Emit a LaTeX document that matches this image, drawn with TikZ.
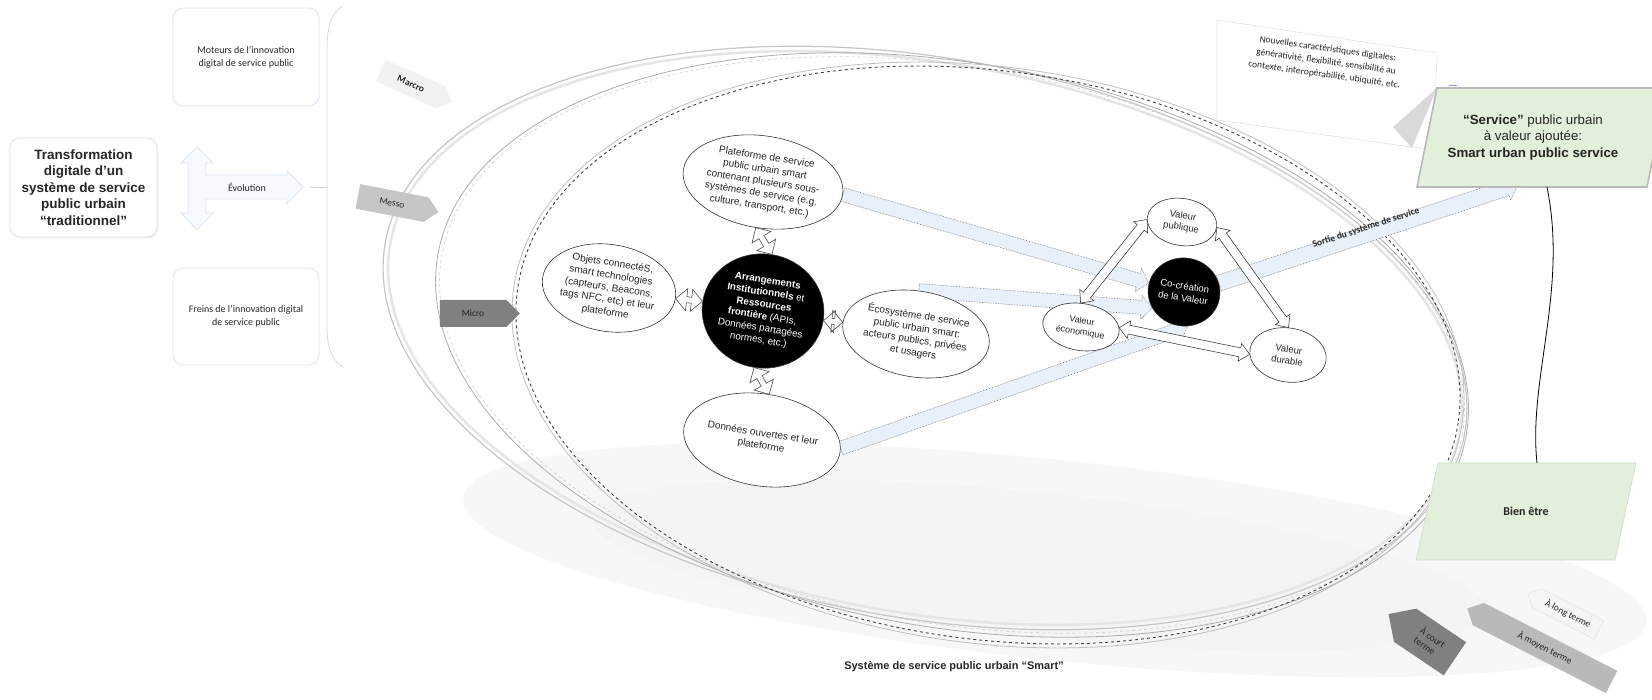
\documentclass[tikz,border=0pt]{standalone}
\usepackage{fontspec}
\setmainfont{Liberation Sans}
\newfontfamily\calib{Carlito}
\usetikzlibrary{shapes.geometric,shapes.symbols,calc,shadows}
\definecolor{lgreen}{HTML}{E2EFDA}
\definecolor{flowblue}{HTML}{E8F0FA}
\definecolor{boxline}{HTML}{DAE5F0}
\definecolor{evofill}{HTML}{F7FAFD}
\pgfdeclarelayer{bg}
\pgfsetlayers{bg,main}
\newcommand{\blockarr}[6]{%
  \coordinate (ba-c) at ($(#3)!#6!(#2)$);
  \path[#1] ($(#2)!#4!90:(#3)$) -- ($(ba-c)!#4!90:(#3)$) -- ($(ba-c)!#5!90:(#3)$) -- (#3)
    -- ($(ba-c)!#5!-90:(#3)$) -- ($(ba-c)!#4!-90:(#3)$) -- ($(#2)!#4!-90:(#3)$) -- cycle;}
\newcommand{\dblarr}[6]{%
  \coordinate (da-a) at ($(#2)!#6!(#3)$);
  \coordinate (da-b) at ($(#3)!#6!(#2)$);
  \path[#1] (#2) -- ($(da-a)!#5!90:(#3)$) -- ($(da-a)!#4!90:(#3)$) -- ($(da-b)!#4!90:(#3)$)
    -- ($(da-b)!#5!90:(#3)$) -- (#3) -- ($(da-b)!#5!-90:(#3)$) -- ($(da-b)!#4!-90:(#3)$)
    -- ($(da-a)!#4!-90:(#3)$) -- ($(da-a)!#5!-90:(#3)$) -- cycle;}
\begin{document}
\begin{tikzpicture}[x=1pt,y=-1pt,
  every node/.style={text=black!85},
  lbox/.style={rectangle, rounded corners=10pt, draw=boxline, fill=white, line width=0.8pt, align=center, inner sep=2pt},
  inode/.style={ellipse, draw=black!80, line width=0.6pt, fill=white, inner sep=0pt, align=center, rotate=-9, font=\fontsize{10}{12.3}\selectfont},
  cnode/.style={inode, fill=black, text=white},
  vnode/.style={inode, font=\fontsize{9.5}{11.5}\selectfont},
  flow/.style={fill=flowblue, draw=black!55, densely dotted, line width=0.6pt},
  varr/.style={fill=white, draw=black!80, line width=0.55pt},
  dconn/.style={fill=white, draw=black!70, line width=0.6pt},
  lvl/.style={signal, signal to=east, inner sep=0pt, font=\calib\fontsize{9.5}{11}\selectfont},
  term/.style={signal, signal to=west, inner sep=0pt, font=\calib\fontsize{9.5}{11}\selectfont}]
\useasboundingbox (0,0) rectangle (1652,700);

% ---------- background: shadow and big ellipses ----------
\begin{pgfonlayer}{bg}
\fill[gray!6, rotate around={-6:(1055,560)}] (1055,560) ellipse [x radius=595pt, y radius=100pt];
\fill[gray!9, rotate around={-6:(1040,565)}] (1040,565) ellipse [x radius=450pt, y radius=72pt];
\draw[gray!20, line width=2.5pt, rotate around={-10:(925,338)}] (925,338) ellipse [x radius=543pt, y radius=275pt];
\draw[gray!45, line width=1.2pt, rotate around={-10:(925,338)}] (925,338) ellipse [x radius=548pt, y radius=280pt];
\draw[gray!35, dashed, line width=0.7pt, rotate around={-10:(952,345)}] (952,345) ellipse [x radius=518pt, y radius=278pt];
\draw[gray!65, line width=0.8pt, rotate around={-10:(952,345)}] (952,345) ellipse [x radius=522pt, y radius=282pt];
\draw[gray!50, line width=0.8pt, rotate around={-8:(988,355)}] (988,355) ellipse [x radius=479pt, y radius=288pt];
\draw[black!75, dashed, line width=0.9pt, rotate around={-8:(988,355)}] (988,355) ellipse [x radius=475pt, y radius=284pt];
\end{pgfonlayer}

% ---------- left part ----------
\node[lbox, minimum width=147, minimum height=99, drop shadow={opacity=0.12, shadow xshift=1.5pt, shadow yshift=-1.5pt},
      font=\fontsize{13.5}{16.5}\selectfont\bfseries] (trans) at (83.5,187.5)
  {Transformation\\digitale d’un\\système de service\\public urbain\\“traditionnel”};
\node[lbox, minimum width=146, minimum height=98, font=\calib\fontsize{10}{13.3}\selectfont] (mot) at (246,57)
  {Moteurs de l’innovation\\digital de service public};
\node[lbox, minimum width=146, minimum height=97, font=\calib\fontsize{10}{13.3}\selectfont] (frein) at (246,316.5)
  {Freins de l’innovation digital\\de service public};
\path[fill=evofill, draw=boxline, line width=0.8pt] (197,147) -- (213,163) -- (206,163) -- (206,175) -- (287,175)
  -- (287,171) -- (303,187) -- (287,204) -- (287,199) -- (206,199) -- (206,213) -- (213,213) -- (197,230)
  -- (181,213) -- (188,213) -- (188,163) -- (181,163) -- cycle;
\node[font=\calib\fontsize{10}{12}\selectfont] (evo) at (247,187) {Évolution};
\coordinate (evotip) at (310,187);
\coordinate (brk) at (327,187);
\draw[gray!35, line width=0.8pt] (evotip) -- (brk);
\draw[gray!30, line width=0.8pt] (343,6) .. controls (331,12) and (327,28) .. (327,50) -- (327,325)
  .. controls (327,348) and (331,360) .. (343,367);

% ---------- level arrows ----------
\node[lvl, fill=gray!10, minimum width=78, minimum height=24, rotate=-24, font=\calib\bfseries\fontsize{9.5}{11}\selectfont] (marcro) at (411,84) {Marcro};
\node[lvl, fill=gray!45, minimum width=82, minimum height=25, rotate=-11] (messo) at (392,203) {Messo};
\node[lvl, fill=black!50, minimum width=80, minimum height=27] (micro) at (473,313.5) {Micro};

% ---------- inner nodes ----------
\node[inode, minimum width=156, minimum height=92] (plat) at (763,182)
  {Plateforme de service\\public urbain smart\\contenant plusieurs sous-\\systèmes de service (e.g.\\culture, transport, etc.)};
\node[inode, minimum width=134, minimum height=87] (obj) at (609,288)
  {Objets connectéS,\\smart technologies\\(capteurs, Beacons,\\tags NFC, etc) et leur\\plateforme};
\node[cnode, minimum width=122, minimum height=114, font=\fontsize{9.8}{12}\selectfont] (arr) at (763,311)
  {\textbf{Arrangements}\\\textbf{Institutionnels} et\\\textbf{Ressources}\\\textbf{frontière} (APIs,\\Données partagées\\normes, etc.)};
\node[inode, minimum width=138, minimum height=86] (eco) at (916,334)
  {Écosystème de service\\public urbain smart:\\acteurs publics, privées\\et usagers};
\node[inode, minimum width=154, minimum height=92] (don) at (762,440)
  {Données ouvertes et leur\\plateforme};
\node[vnode, minimum width=70, minimum height=47] (vp) at (1182,222) {Valeur\\publique};
\node[cnode, minimum width=72, minimum height=68, font=\fontsize{9.5}{12}\selectfont] (cc) at (1184,292) {Co-création\\de la Valeur};
\node[vnode, minimum width=77, minimum height=47, font=\fontsize{9}{11.5}\selectfont] (ve) at (1081,327) {Valeur\\économique};
\node[vnode, minimum width=77, minimum height=54] (vd) at (1288,355) {Valeur\\durable};

% ---------- right part ----------
\draw[fill=white, draw=gray!22, line width=0.6pt] (1217,20) -- (1437,53) -- (1433,150) -- (1217,120) -- cycle;
\fill[gray!30] (1437,88) -- (1393,127) -- (1412,148) -- cycle;
\node[rotate=-8, align=center, font=\calib\fontsize{9.5}{13}\selectfont] (nouv) at (1326,62)
  {Nouvelles caractéristiques digitales:\\générativité, flexibilité, sensibilité au\\contexte, interopérabilité, ubiquité, etc.};
\draw[blue!45, line width=1pt] (1449,86) -- (1457,86);
\draw[fill=lgreen, draw=gray!55, line width=1.6pt] (1437,88) -- (1667,88) -- (1647,187) -- (1417,187) -- cycle;
\node[minimum width=212, minimum height=99, inner sep=0pt, align=center, font=\fontsize{13.3}{16.5}\selectfont] (svc) at (1533,137.5)
  {\textbf{“Service”} public urbain\\à valeur ajoutée:\\\textbf{Smart urban public service}};
\draw[fill=lgreen, draw=lgreen!80!gray, line width=0.6pt] (1438,463) -- (1636,463) -- (1615,560) -- (1416,560) -- cycle;
\node[minimum width=200, minimum height=97, inner sep=0pt, font=\calib\bfseries\fontsize{12}{14}\selectfont] (bien) at (1526,511.5) {Bien être};
\draw[black, line width=0.8pt] ($(svc.south)+(14,0)$) .. controls (1568,290) and (1528,380) .. ($(bien.north)+(11,0)$);

\node[term, fill=gray!8, draw=gray!25, minimum width=80, minimum height=21, rotate=-27] (long) at (1568,614) {À long terme};
\node[term, fill=gray!55, minimum width=162, minimum height=25, rotate=-27] (moyen) at (1545,648) {À moyen terme};
\node[term, fill=black!50, minimum width=80, minimum height=40, rotate=-34, align=left] (court) at (1430,642) {À court\\terme};

\node[font=\bfseries\fontsize{11}{13}\selectfont] (title) at (954,667) {Système de service public urbain “Smart”};

% ---------- connectors ----------
\coordinate (svcend) at ($(svc.south)+(-15,-3)$);
\begin{pgfonlayer}{bg}
\blockarr{flow}{plat.east}{cc.175}{7pt}{12pt}{11pt}
\blockarr{flow}{eco.95}{cc.216}{7pt}{12pt}{11pt}
\blockarr{flow}{don.3}{cc.285}{7pt}{12pt}{11pt}
\blockarr{flow}{cc.23}{svcend}{8pt}{13pt}{12pt}
\dblarr{varr}{ve.100}{vp.185}{4.5pt}{9pt}{10pt}
\dblarr{varr}{vp.0}{vd.98}{4.5pt}{9pt}{10pt}
\dblarr{varr}{ve.8}{vd.188}{4.5pt}{9pt}{10pt}
\end{pgfonlayer}
\dblarr{dconn}{plat.south}{arr.north}{3pt}{11pt}{11pt}
\dblarr{dconn}{obj.east}{arr.west}{3pt}{11pt}{11pt}
\dblarr{dconn}{arr.east}{eco.west}{3pt}{11pt}{11pt}
\dblarr{dconn}{arr.south}{don.north}{3pt}{11pt}{11pt}
\node[rotate=18, font=\calib\bfseries\fontsize{9.5}{11}\selectfont] (sortie) at (1366,228) {Sortie du système de service};
\end{tikzpicture}
\end{document}
